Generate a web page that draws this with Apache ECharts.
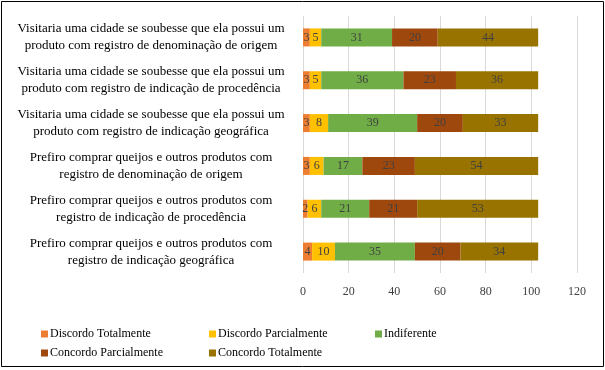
<!DOCTYPE html>
<html>
<head>
<meta charset="utf-8">
<script src="https://cdn.jsdelivr.net/npm/echarts@6/dist/echarts.min.js"></script>
<style>
  html, body { margin: 0; padding: 0; background: #fff; }
  #chart { width: 605px; height: 370px; }
</style>
</head>
<body>
<div id="chart"></div>
<script>
var categories = [
    'Visitaria uma cidade se soubesse que ela possui um\nproduto com registro de denominação de origem',
    'Visitaria uma cidade se soubesse que ela possui um\nproduto com registro de indicação de procedência',
    'Visitaria uma cidade se soubesse que ela possui um\nproduto com registro de indicação geográfica',
    'Prefiro comprar queijos e outros produtos com\nregistro de denominação de origem',
    'Prefiro comprar queijos e outros produtos com\nregistro de indicação de procedência',
    'Prefiro comprar queijos e outros produtos com\nregistro de indicação geográfica'
];
var seriesNames = ['Discordo Totalmente', 'Discordo Parcialmente', 'Indiferente',
    'Concordo Parcialmente', 'Concordo Totalmente'];
var discordoTotal = [3, 3, 3, 3, 2, 4];
var discordoParcial = [5, 5, 8, 6, 6, 10];
var indiferente = [31, 36, 39, 17, 21, 35];
var concordoParcial = [20, 23, 20, 23, 21, 20];
var concordoTotal = [44, 36, 33, 54, 53, 34];
var xTicks = [0, 120, 20];

var colors = ['#ED7D31', '#FFC000', '#70AD47', '#9E480E', '#997300'];
var values = [discordoTotal, discordoParcial, indiferente, concordoParcial, concordoTotal];
var font = '"Liberation Serif", "Times New Roman", serif';

var series = seriesNames.map(function (name, i) {
    return {
        name: name,
        type: 'bar',
        stack: 'total',
        barWidth: 18,
        itemStyle: { color: colors[i] },
        label: {
            show: true,
            position: 'inside',
            color: '#404040',
            fontFamily: font,
            fontSize: 12
        },
        data: values[i]
    };
});

// one legend per item so the columns line up like the original
var legendPos = [[36, 323], [204, 323], [370, 323], [36, 342], [204, 342]];
var legends = seriesNames.map(function (name, i) {
    return {
        data: [name],
        left: legendPos[i][0],
        top: legendPos[i][1],
        itemWidth: 7,
        itemHeight: 7,
        itemGap: 2,
        icon: 'rect',
        textStyle: { fontFamily: font, fontSize: 12, color: '#000', padding: [0, 0, 0, -3] }
    };
});

var myChart = echarts.init(document.getElementById('chart'));

var option = {
    animation: false,
    legend: legends,
    grid: { left: 303, right: 28, top: 16, bottom: 97, containLabel: false },
    xAxis: {
        type: 'value',
        min: xTicks[0],
        max: xTicks[1],
        interval: xTicks[2],
        axisLine: { show: false },
        axisTick: { show: false },
        axisLabel: { fontFamily: font, fontSize: 12, color: '#404040', margin: 13 },
        splitLine: { lineStyle: { color: '#D9D9D9' } }
    },
    yAxis: {
        type: 'category',
        inverse: true,
        data: categories,
        axisLine: { show: false },
        axisTick: { show: false },
        axisLabel: {
            fontFamily: font,
            fontSize: 13,
            lineHeight: 17,
            color: '#000',
            align: 'center',
            margin: 152
        }
    },
    graphic: [{
        type: 'rect',
        shape: { x: 1.5, y: 1.5, width: 602, height: 365 },
        style: { fill: 'none', stroke: '#000', lineWidth: 1 },
        silent: true
    }],
    series: series
};

myChart.setOption(option);
</script>
</body>
</html>
